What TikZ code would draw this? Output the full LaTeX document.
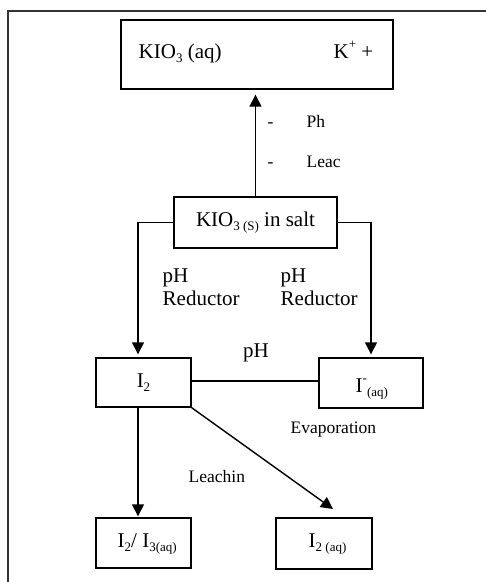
\documentclass[tikz,border=0pt]{standalone}
\usepackage{fontspec}
\setmainfont{Liberation Serif}
\usetikzlibrary{arrows.meta}
\newcommand{\lo}[1]{\raisebox{-4pt}{\fontsize{13}{13}\selectfont #1}}
\newcommand{\hi}[1]{\raisebox{10pt}{\fontsize{13}{13}\selectfont #1}}

\begin{document}
\begin{tikzpicture}[x=1pt,y=-1pt,->,>={Triangle[length=12pt,width=12pt]},line width=1.4pt,
  box/.style={draw,rectangle,inner sep=0pt,font=\fontsize{21}{23}\selectfont},
  txt/.style={inner sep=0pt,anchor=base west,font=\fontsize{21}{23}\selectfont},
  note/.style={inner sep=0pt,anchor=base west,font=\fontsize{17.5}{20}\selectfont}]

  \useasboundingbox (0,0) rectangle (486,582);
  \draw[-,line width=1.5pt,black!80] (486,11) -- (8,11) -- (8,582);

  \node[box, minimum width=272pt, minimum height=69pt] (top)  at (257,54.5)  {};
  \node[txt]                                           (topl) at (138,58)    {KIO\lo{3} (aq)};
  \node[txt]                                           (topr) at (333,58)    {K\hi{+} +};
  \node[box, minimum width=163pt, minimum height=51pt] (salt) at (255.5,222.5) {KIO\lo{3 (S)} in salt};
  \node[box, minimum width=95pt,  minimum height=49pt] (i2)   at (143.5,382.5) {I\lo{2}};
  \node[box, minimum width=104pt, minimum height=50pt] (iaq)  at (371,383)   {};
  \node[txt]                                           (iaql) at (355,392)   {I\hi{-}\lo{(aq)}};
  \node[box, minimum width=95pt,  minimum height=50pt] (mix)  at (143.5,543) {};
  \node[txt]                                           (mixl) at (117,547)   {I\lo{2}/ I\lo{3(aq)}};
  \node[box, minimum width=96pt,  minimum height=51pt] (i2aq) at (324,543.5) {};
  \node[txt]                                           (i2aql) at (308,547)  {I\lo{2 (aq)}};

  % labels
  \node[note] (dash1) at (267,127) {-};
  \node[note] (ph)    at (306,127) {Ph};
  \node[note] (dash2) at (267,167) {-};
  \node[note] (leac)  at (306,167) {Leac};
  \node[txt, anchor=north west, align=left] (redl) at (162,268) {pH\\Reductor};
  \node[txt, anchor=north west, align=left] (redr) at (280,268) {pH\\Reductor};
  \node[txt, anchor=base] (phmid) at (256,357) {pH};
  \node[note] (evap)  at (290,433) {Evaporation};
  \node[note] (leach) at (188,482) {Leachin};
  \coordinate (leachend) at (333,509);

  \draw[shorten >=5pt] (salt.north) -- (salt.north |- top.south);
  \draw[shorten >=3pt] (salt.west) -| ([xshift=-5.5pt]i2.north);
  \draw[shorten >=3pt] (salt.east) -| (iaq.north);
  \draw[-] ([yshift=1.5pt]i2.east) -- ([yshift=1.5pt]i2.east -| iaq.west);
  \draw[shorten >=1pt] ([xshift=-5.5pt]i2.south) -- ([xshift=-5.5pt]mix.north);
  \draw (i2.south east) -- (leachend);

\end{tikzpicture}
\end{document}
